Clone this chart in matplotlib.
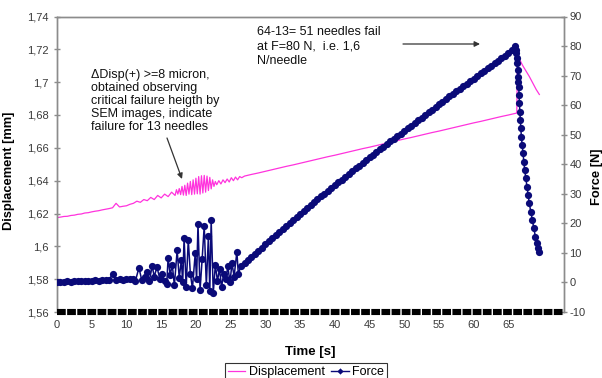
import matplotlib
matplotlib.use("Agg")
import matplotlib.pyplot as plt
from matplotlib.lines import Line2D

plt.rcParams['font.family'] = ['Liberation Sans', 'DejaVu Sans']
plt.rcParams['lines.scale_dashes'] = False

# ---------------- data ----------------
disp_t = [0, 0.5, 1.0, 1.5, 2.0, 2.5, 3.0, 3.5, 4.0, 4.5, 5.0, 5.5, 6.0, 6.5, 7.0, 7.5, 8.0,
          8.5, 9.0, 9.5, 10.0, 10.5, 11.0, 11.5, 12.0, 12.5, 13.0, 13.5, 14.0, 14.5, 15.0,
          15.5, 16.0, 16.5, 17.0,
          17.2, 17.4, 17.6, 17.8, 18.0, 18.2, 18.4, 18.6, 18.8, 19.0, 19.2, 19.4, 19.6, 19.8,
          20.0, 20.2, 20.4, 20.6, 20.8, 21.0, 21.2, 21.4, 21.6, 21.8, 22.0, 22.2, 22.4, 22.6,
          22.8, 23.0, 23.3, 23.6, 23.9, 24.2, 24.5, 24.8, 25.1, 25.4, 25.7, 26.0, 26.3, 26.6,
          27.0, 28, 29, 30, 31, 32, 33, 34, 35, 36, 37, 38, 39, 40, 41, 42, 43, 44, 45, 46,
          47, 48, 49, 50, 51, 52, 53, 54, 55, 56, 57, 58, 59, 60, 61, 62, 63, 64, 65, 66.2,
          66.3, 66.6, 67.0, 67.5, 68.0, 68.5, 69.0, 69.45]
disp_mm = [1.6175, 1.6178, 1.6182, 1.6183, 1.6188, 1.6190, 1.6195, 1.6197, 1.6203, 1.6205,
           1.6210, 1.6214, 1.6217, 1.6222, 1.6226, 1.6230, 1.6235, 1.6262, 1.6240, 1.6244,
           1.6247, 1.6256, 1.6262, 1.6275, 1.6268, 1.6285, 1.6278, 1.6298, 1.6285, 1.6310,
           1.6295, 1.6318, 1.6303, 1.6330, 1.6310,
           1.6345, 1.6318, 1.6352, 1.6315, 1.6365, 1.6312, 1.6372, 1.6310, 1.6385, 1.6318,
           1.6395, 1.6315, 1.6405, 1.6318, 1.6415, 1.6320, 1.6425, 1.6318, 1.6430, 1.6325,
           1.6432, 1.6330, 1.6428, 1.6340, 1.6420, 1.6350, 1.6405, 1.6365, 1.6395, 1.6375,
           1.6400, 1.6380, 1.6405, 1.6388, 1.6410, 1.6392, 1.6418, 1.6400, 1.6422, 1.6405,
           1.6425, 1.6418, 1.6428, 1.6438, 1.6447, 1.6457, 1.6467, 1.6477, 1.6487, 1.6496,
           1.6506, 1.6516, 1.6526, 1.6536, 1.6546, 1.6555, 1.6565, 1.6575, 1.6585, 1.6595,
           1.6604, 1.6614, 1.6624, 1.6634, 1.6644, 1.6654, 1.6663, 1.6673, 1.6683, 1.6693,
           1.6702, 1.6712, 1.6722, 1.6732, 1.6742, 1.6752, 1.6761, 1.6771, 1.6781, 1.6791,
           1.6800, 1.6812,
           1.7165, 1.7140, 1.7105, 1.7070, 1.7035, 1.6995, 1.6955, 1.6925]

force_t = [0, 0.5, 1.0, 1.5, 2.0, 2.5, 3.0, 3.5, 4.0, 4.5, 5.0, 5.5, 6.0, 6.5, 7.0, 7.5, 8.0,
           8.5, 9.0, 9.5, 10.0,
           10.5, 10.9, 11.3, 11.8, 12.2, 12.6, 13.0, 13.3, 13.7, 14.0, 14.4, 14.8, 15.1, 15.5,
           15.8, 16.0, 16.3, 16.6, 16.9, 17.3, 17.6, 17.9, 18.1, 18.3, 18.6, 18.9, 19.2, 19.5,
           19.9, 20.1, 20.3, 20.6, 20.9, 21.2, 21.5, 21.8, 22.0, 22.2, 22.5, 22.8, 23.1, 23.4,
           23.7, 24.0, 24.3, 24.6, 24.9, 25.2, 25.5, 25.9, 26.1,
           26.5, 27.0, 27.5, 28.0, 28.5, 29.0, 29.5, 30.0, 30.5, 31.0, 31.5, 32.0, 32.5, 33.0,
           33.5, 34.0, 34.5, 35.0, 35.5, 36.0, 36.5, 37.0, 37.5, 38.0, 38.5, 39.0, 39.5, 40.0,
           40.5, 41.0, 41.5, 42.0, 42.5, 43.0, 43.5, 44.0, 44.5, 45.0, 45.5, 46.0, 46.5, 47.0,
           47.5, 48.0, 48.5, 49.0, 49.5, 50.0, 50.5, 51.0, 51.5, 52.0, 52.5, 53.0, 53.5, 54.0,
           54.5, 55.0, 55.5, 56.0, 56.5, 57.0, 57.5, 58.0, 58.5, 59.0, 59.5, 60.0, 60.5, 61.0,
           61.5, 62.0, 62.5, 63.0, 63.5, 64.0, 64.5, 65.0, 65.5, 66.0,
           66.07, 66.14, 66.21, 66.28, 66.33, 66.38, 66.43, 66.48, 66.53, 66.57, 66.64, 66.71,
           66.78, 66.86, 66.98, 67.10, 67.22, 67.34, 67.51, 67.68, 67.84, 68.00, 68.22, 68.44,
           68.66, 68.88, 69.10, 69.30, 69.45]
force_n = [0.2, 0.3, 0.2, 0.4, 0.3, 0.5, 0.4, 0.5, 0.6, 0.5, 0.6, 0.7, 0.6, 0.8, 0.7, 0.9,
           2.8, 0.8, 1.0, 0.9, 1.1,
           1.0, 1.3, 0.6, 5.0, 0.8, 1.8, 3.6, 0.5, 5.6, 2.0, 5.2, 1.2, 3.0, 0.4,
           -0.5, 8.4, 2.5, 6.0, -1.0, 10.9, 1.5, 7.5, 0.0, 15.0, -1.5, 14.4, 3.0, -2.0,
           9.8, 1.0, 19.8, -2.5, 8.0, 19.2, -1.0, 15.7, -3.0, 21.0, -3.6, 6.0, 0.5, 4.5,
           -1.5, 3.0, 1.0, 5.5, 0.0, 6.5, 2.0, 10.4, 3.0,
           5.5, 6.6, 7.6, 8.7, 9.7, 10.8, 11.8, 12.9, 13.9, 15.0, 16.0, 17.1, 18.1, 19.2,
           20.2, 21.2, 22.2, 23.2, 24.2, 25.2, 26.2, 27.1, 28.1, 29.1, 30.0, 31.0, 32.0, 32.9,
           33.9, 34.8, 35.8, 36.7, 37.6, 38.6, 39.5, 40.4, 41.3, 42.3, 43.2, 44.1, 45.0, 45.9,
           46.8, 47.7, 48.6, 49.5, 50.4, 51.3, 52.2, 53.1, 54.0, 54.9, 55.8, 56.7, 57.6, 58.5,
           59.4, 60.3, 61.2, 62.1, 63.0, 63.8, 64.7, 65.6, 66.5, 67.3, 68.2, 69.0, 69.9, 70.8,
           71.6, 72.5, 73.3, 74.2, 75.1, 76.0, 76.8, 77.7, 78.8, 80.0,
           78.8, 77.5, 75.8, 74.2, 72.0, 69.6, 67.9, 66.2, 63.4, 60.6, 57.8, 55.0,
           52.2, 49.3, 46.5, 43.7, 40.9, 38.1, 35.2, 32.4, 29.6, 26.8, 24.0, 21.1,
           18.3, 15.5, 13.2, 11.5, 10.2]

x_ticks = [0, 5, 10, 15, 20, 25, 30, 35, 40, 45, 50, 55, 60, 65]
disp_ticks = [1.56, 1.58, 1.60, 1.62, 1.64, 1.66, 1.68, 1.70, 1.72, 1.74]
disp_ticklabels = ['1,56', '1,58', '1,6', '1,62', '1,64', '1,66', '1,68', '1,7', '1,72', '1,74']
force_ticks = [-10, 0, 10, 20, 30, 40, 50, 60, 70, 80, 90]

note_left = ("\u0394Disp(+) >=8 micron,\nobtained observing\ncritical failure heigth by\n"
             "SEM images, indicate\nfailure for 13 needles")
note_right = "64-13= 51 needles fail\nat F=80 N,  i.e. 1,6\nN/needle"

# ---------------- figure ----------------
W, H = 602, 378
fig = plt.figure(figsize=(W / 100, H / 100), dpi=100)
L, R, T, B = 57, 564, 16.5, 312
ax = fig.add_axes([L / W, 1 - B / H, (R - L) / W, (B - T) / H])
ax2 = ax.twinx()

MAG = '#ff33dd'
NAVY = '#0a0a78'
GRAY = '#8c8c8c'
TXT = '#3a3a3a'

ax.plot(disp_t, disp_mm, color=MAG, lw=0.9, zorder=2)
ax2.plot(force_t, force_n, color=NAVY, lw=1.1, marker='o', ms=5.2,
         markeredgewidth=0, zorder=3)

ax.set_xlim(0, 73)
ax.set_ylim(1.56, 1.74)
ax2.set_ylim(-10, 90)

ax.set_xticks(x_ticks)
ax.set_xticklabels([str(v) for v in x_ticks])
ax.set_yticks(disp_ticks)
ax.set_yticklabels(disp_ticklabels)
ax2.set_yticks(force_ticks)
ax2.set_yticklabels([str(v) for v in force_ticks])

for a in (ax, ax2):
    for s in a.spines.values():
        s.set_color(GRAY)
        s.set_linewidth(1.0)
    a.spines['bottom'].set_visible(False)
    a.tick_params(axis='y', colors=GRAY, labelcolor=TXT, direction='inout',
                  length=5, width=1, labelsize=8)
ax2.tick_params(axis='y', pad=1.5)
ax.tick_params(axis='x', length=0, labelsize=8, labelcolor=TXT, pad=6)

# dense tick-mark band at the bottom of the plot area
band = Line2D([0, 73], [-10, -10], color='black', lw=4.4,
              transform=ax2.transData, clip_on=False, zorder=5)
band.set_dashes([6.3, 1.0])
band.set_dash_capstyle('butt')
ax2.add_line(band)

ax.set_ylabel('Displacement [mm]', fontsize=9.3, fontweight='bold')
ax.yaxis.set_label_coords((15 - L) / (R - L), (B - 171) / (B - T))
ax2.set_ylabel('Force [N]', fontsize=9.3, fontweight='bold')
ax2.yaxis.set_label_coords((591 - L) / (R - L), (B - 177) / (B - T))
ax.set_xlabel('Time [s]', fontsize=9.5, fontweight='bold', labelpad=11)

# annotations (pixel positions converted to figure fractions)
fig.text(91 / W, 1 - 69 / H, note_left, fontsize=9, va='top', ha='left',
         color='#111111', linespacing=1.12)
fig.text(257 / W, 1 - 26 / H, note_right, fontsize=9, va='top', ha='left',
         color='#111111', linespacing=1.28)
ax.annotate('', xy=(182 / W, 1 - 179 / H), xytext=(167 / W, 1 - 138 / H),
            xycoords='figure fraction', textcoords='figure fraction',
            arrowprops=dict(arrowstyle='-|>', color='#333333', lw=0.9,
                            mutation_scale=8, shrinkA=0, shrinkB=0))
ax.annotate('', xy=(480 / W, 1 - 44 / H), xytext=(403 / W, 1 - 44 / H),
            xycoords='figure fraction', textcoords='figure fraction',
            arrowprops=dict(arrowstyle='-|>', color='#333333', lw=0.9,
                            mutation_scale=8, shrinkA=0, shrinkB=0))

handles = [Line2D([], [], color=MAG, lw=0.9),
           Line2D([], [], color=NAVY, lw=1.0, marker='D', ms=3.2, markeredgewidth=0)]
leg = fig.legend(handles, ['Displacement', 'Force'], loc='center',
                 bbox_to_anchor=(306 / W, 1 - 372 / H), ncol=2, fontsize=9,
                 frameon=True, fancybox=False, handlelength=1.4, handletextpad=0.3,
                 columnspacing=0.5, borderpad=0.25, borderaxespad=0)
leg.get_frame().set_edgecolor('black')
leg.get_frame().set_linewidth(0.8)

fig.savefig('out.png', dpi=100)
